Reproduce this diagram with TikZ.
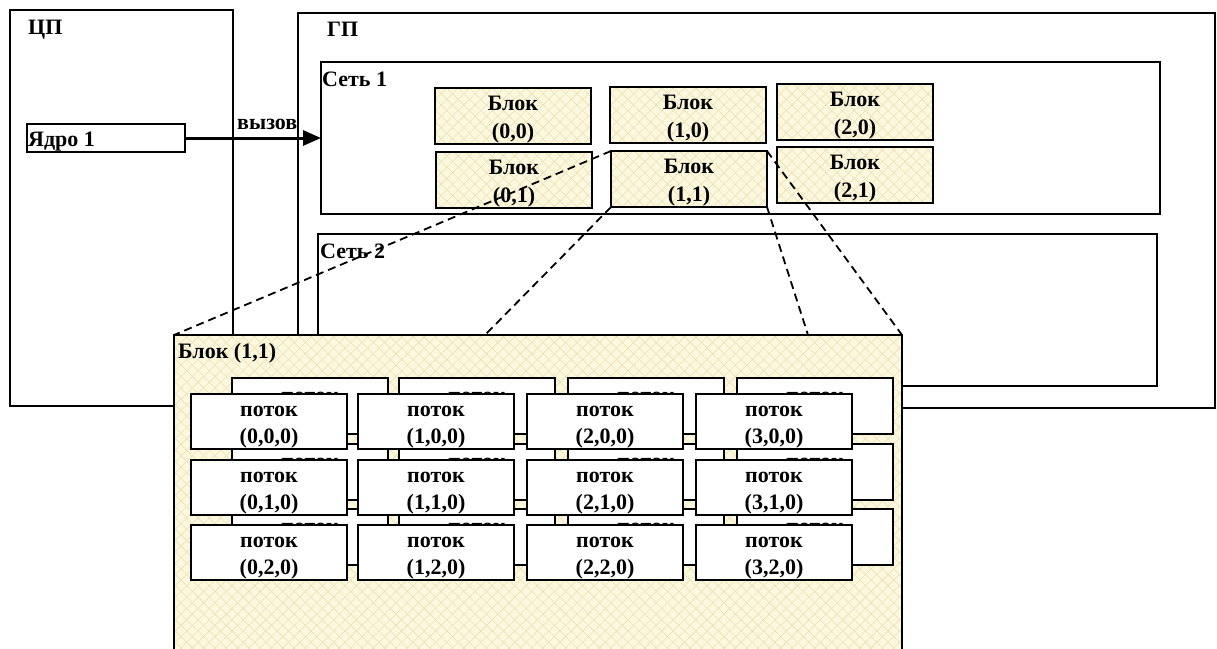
\documentclass[tikz,border=0pt]{standalone}
\usepackage{fontspec}
\setmainfont{Liberation Serif}
\usetikzlibrary{arrows.meta,patterns.meta}
\definecolor{hatchbg}{HTML}{FCF8E0}
\definecolor{hatchln}{HTML}{EDE1B0}
\newcommand{\toprule}{\rule{0pt}{22pt}}
\newcommand{\backrule}{\rule{0pt}{24.5pt}}
\begin{document}
\begin{tikzpicture}[x=1pt,y=-1pt,
  frame/.style={draw, line width=1.6pt, inner sep=0pt, outer sep=0pt, anchor=north west},
  lbl/.style={inner sep=0pt, anchor=base west, font=\fontsize{22}{27}\selectfont\bfseries},
  hatch/.style={preaction={draw=none, fill=hatchbg},
    preaction={draw=none, pattern={Lines[angle=45,distance=8pt,line width=0.6pt]}, pattern color=hatchln},
    preaction={draw=none, pattern={Lines[angle=-45,distance=8pt,line width=0.6pt]}, pattern color=hatchln}},
  blk/.style={frame, hatch, line width=1.9pt, minimum width=156pt, minimum height=56pt, align=center, font=\fontsize{22}{28}\selectfont\bfseries},
  thr/.style={frame, fill=white, line width=1.9pt, minimum width=156pt, minimum height=55pt, align=center, font=\fontsize{22}{27}\selectfont\bfseries},
  zoomline/.style={dash pattern=on 8pt off 5pt, line width=1.8pt},
]
\clip (0,0) rectangle (1217,648);
\fill[white] (0,0) rectangle (1217,648);

% host and device frames
\node[frame, minimum width=223pt, minimum height=396pt] (cpu) at (10,10) {};
\node[frame, minimum width=917pt, minimum height=395pt] (gpu) at (298,13) {};
\node[frame, minimum width=839pt, minimum height=152pt] (net1) at (321,62) {};
\node[frame, minimum width=839pt, minimum height=152pt] (net2) at (318,234) {};
\node[frame, minimum width=158pt, minimum height=28pt] (core) at (27,124) {};

\node[lbl] (lcpu) at (28,34) {ЦП};
\node[lbl] (lgpu) at (327,36) {ГП};
\node[lbl] (lnet1) at (322,86) {Сеть 1};
\node[lbl] (lnet2) at (320,258) {Сеть 2};
\node[lbl] (lcore) at (28,146) {Ядро 1};

% blocks of grid 1
\node[blk] (b00) at (435,88) {\toprule Блок\\(0,0)};
\node[blk] (b10) at (610,87) {\toprule Блок\\(1,0)};
\node[blk] (b20) at (777,84) {\toprule Блок\\(2,0)};
\node[blk] (b01) at (436,152) {\toprule Блок\\(0,1)};
\node[blk] (b11) at (611,151) {\toprule Блок\\(1,1)};
\node[blk] (b21) at (777,147) {\toprule Блок\\(2,1)};

% call arrow
\draw[line width=3pt, -{Triangle[length=18pt,width=15pt]}] (core.east) -- (core.east -| net1.west);
\node[lbl] (lcall) at (237,129) {вызов};

% zoom block
\node[frame, hatch, line width=1.9pt, minimum width=728pt, minimum height=330pt] (big) at (174,335) {};
\node[lbl] (lbig) at (178,358) {Блок (1,1)};
\coordinate (zl) at (485,335);
\coordinate (zr) at (808,335);
\draw[zoomline] (b11.north west) -- (big.north west);
\draw[zoomline] (b11.south west) -- (zl);
\draw[zoomline] (b11.south east) -- (zr);
\draw[zoomline] (b11.north east) -- (big.north east);

% threads, back layer
\foreach \i/\x in {0/191,1/358,2/527,3/696}
  \foreach \j/\y in {0/394,1/460,2/525}
    \node[thr] (t\i\j1) at (\x+41,\y-16) {\backrule поток\\\phantom{(0,0,0)}};
% threads, front layer
\foreach \i/\x in {0/191,1/358,2/527,3/696}
  \foreach \j/\y in {0/394,1/460,2/525}
    \node[thr] (t\i\j0) at (\x,\y) {\toprule поток\\(\i,\j,0)};
\end{tikzpicture}
\end{document}
